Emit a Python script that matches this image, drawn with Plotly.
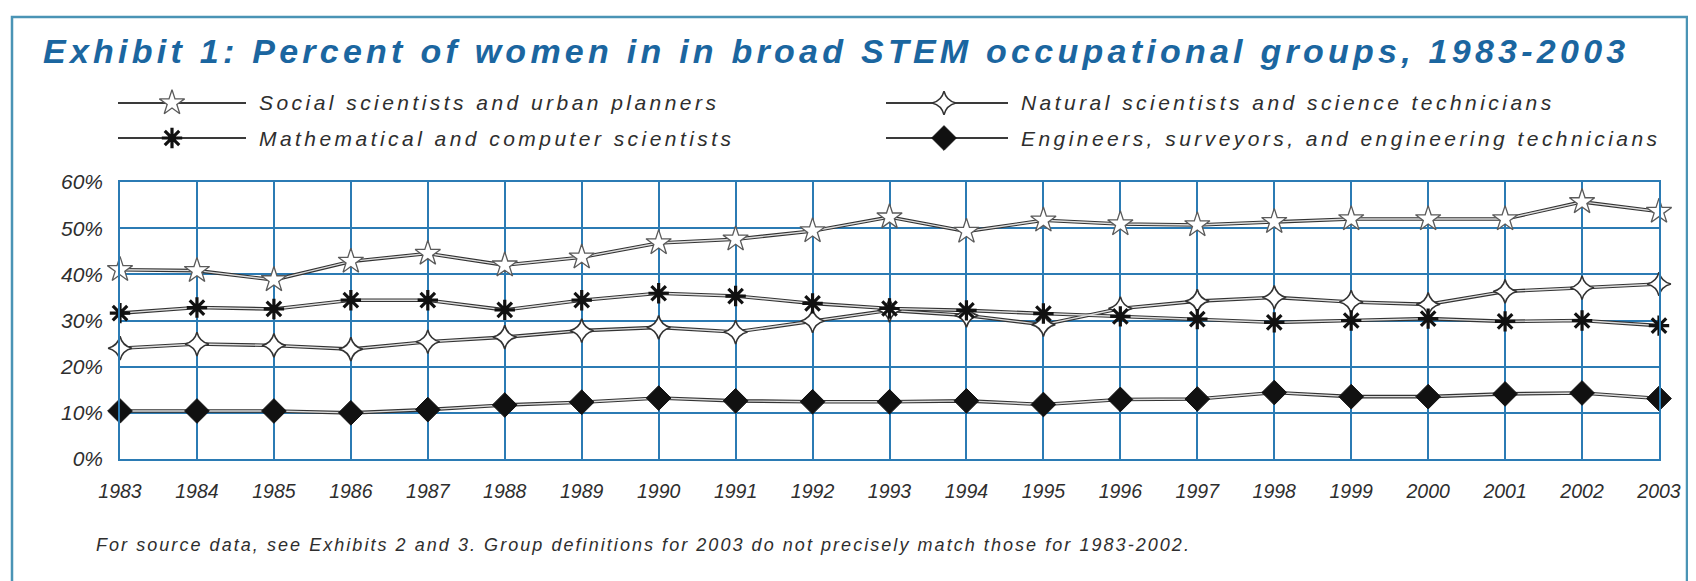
import plotly.graph_objects as go

# ---------------- data ----------------
years = list(range(1983, 2004))
social = [41.0, 40.8, 38.8, 42.8, 44.5, 42.0, 43.7, 46.8, 47.6, 49.4, 52.4,
          49.3, 51.7, 50.9, 50.7, 51.4, 52.0, 52.0, 52.0, 55.7, 53.6]
natural = [24.0, 24.9, 24.6, 23.8, 25.4, 26.4, 27.8, 28.5, 27.5, 29.9, 32.2,
           31.1, 29.1, 32.6, 34.2, 35.0, 34.0, 33.5, 36.3, 37.1, 37.9]
math_cs = [31.6, 32.8, 32.5, 34.4, 34.4, 32.3, 34.4, 35.9, 35.3, 33.7, 32.6,
           32.2, 31.5, 30.9, 30.3, 29.6, 30.0, 30.4, 29.8, 30.0, 28.9]
engineers = [10.4, 10.4, 10.4, 10.0, 10.7, 11.7, 12.3, 13.2, 12.6, 12.4, 12.4,
             12.6, 11.8, 12.9, 13.0, 14.4, 13.5, 13.5, 14.1, 14.3, 13.1]

series_names = [
    "Social scientists and urban planners",
    "Natural scientists and science technicians",
    "Mathematical and computer scientists",
    "Engineers, surveyors, and engineering technicians",
]
series_values = [social, natural, math_cs, engineers]
y_tick_values = [0, 10, 20, 30, 40, 50, 60]

title_text = "Exhibit 1: Percent of women in in broad STEM occupational groups, 1983-2003"
note_text = ("For source data, see Exhibits 2 and 3. Group definitions for 2003 "
             "do not precisely match those for 1983-2002.")

# ---------------- layout geometry ----------------
# The page body has an 8px margin (OFF). Positions below are window pixels.
OFF = 8
W, H = 1696, 581
ML, MR, MT, MB = 30, 30, 20, 20
PW, PH = W - ML - MR, H - MT - MB
PL, PR, PT, PB = 120, 1659, 182, 459   # data plot area edges (window pixels)


def fx(px):
    return (px - OFF - ML) / PW


def fy(py):
    return 1 - (py - OFF - MT) / PH


GRID = "#2b7bb4"
TEXT = "#2e2e2e"
FONT = "Liberation Sans"

marker_styles = [
    dict(symbol="star", size=19, color="white", line=dict(color="#5a5a5a", width=1.3)),
    dict(symbol="star-diamond", size=17, color="white", line=dict(color="#333333", width=1.6)),
    dict(symbol="asterisk-open", size=17, color="#111111", line=dict(color="#111111", width=3.2)),
    dict(symbol="diamond", size=19, color="#111111", line=dict(color="#111111", width=1)),
]

fig = go.Figure()

# dark outline of each series line
for vals in series_values:
    fig.add_trace(go.Scatter(x=years, y=vals, mode="lines",
                             line=dict(color="#333333", width=3.6),
                             hoverinfo="skip", showlegend=False))
# light core + markers
for name, vals, ms in zip(series_names, series_values, marker_styles):
    fig.add_trace(go.Scatter(x=years, y=vals, name=name, mode="lines+markers",
                             line=dict(color="#dcdcdc", width=1.4),
                             marker=ms, showlegend=False, cliponaxis=False))

# ---------------- custom legend (markers on a window-pixel overlay axis) ----------------
legend_pos = [  # (line start, marker, line end, text start, row y) in window pixels
    (118, 172, 246, 257, 103),
    (886, 944, 1008, 1019, 103),
    (118, 172, 246, 257, 138),
    (886, 944, 1008, 1019, 138),
]
shapes = []
annotations = []
for name, ms, (x0, xm, x1, xt, yy) in zip(series_names, marker_styles, legend_pos):
    shapes.append(dict(type="line", xref="paper", yref="paper",
                       x0=fx(x0), x1=fx(x1), y0=fy(yy), y1=fy(yy),
                       line=dict(color="#3a3a3a", width=2), layer="below"))
    fig.add_trace(go.Scatter(x=[xm], y=[yy], mode="markers",
                             xaxis="x2", yaxis="y2",
                             marker=ms, cliponaxis=False, showlegend=False,
                             hoverinfo="skip"))
    annotations.append(dict(
        xref="paper", yref="paper", x=fx(xt), y=fy(yy),
        xanchor="left", yanchor="middle", showarrow=False,
        text='<span style="letter-spacing:3.45px">' + name + "</span>",
        font=dict(family=FONT, size=21, color=TEXT, style="italic")))

# title
annotations.append(dict(
    xref="paper", yref="paper", x=fx(41), y=fy(51),
    xanchor="left", yanchor="middle", showarrow=False,
    text='<span style="letter-spacing:4.25px">' + title_text + "</span>",
    font=dict(family=FONT, size=34, color="#1b66a0", weight="bold", style="italic")))

# footnote
annotations.append(dict(
    xref="paper", yref="paper", x=fx(94), y=fy(545),
    xanchor="left", yanchor="middle", showarrow=False,
    text='<span style="letter-spacing:2.05px">' + note_text + "</span>",
    font=dict(family=FONT, size=18, color=TEXT, style="italic")))

# outer frame
shapes.append(dict(type="rect", xref="paper", yref="paper",
                   x0=fx(12), x1=fx(1687), y0=fy(17), y1=fy(620),
                   line=dict(color="#4a94b5", width=2.5), layer="below"))

fig.update_layout(
    width=W, height=H,
    margin=dict(l=ML, r=MR, t=MT, b=MB, pad=0, autoexpand=False),
    paper_bgcolor="white", plot_bgcolor="rgba(0,0,0,0)",
    shapes=shapes, annotations=annotations,
    showlegend=False,
    xaxis=dict(
        domain=[fx(PL), fx(PR)], anchor="y",
        range=[years[0], years[-1]], tickmode="array", tickvals=years,
        ticktext=[str(y) for y in years], ticks="",
        showgrid=True, gridcolor=GRID, gridwidth=1.6,
        showline=True, linecolor=GRID, linewidth=1.6, mirror=True,
        zeroline=False, ticklabelstandoff=14,
        tickfont=dict(family=FONT, size=19.5, color=TEXT, style="italic"),
    ),
    yaxis=dict(
        domain=[fy(PB), fy(PT)], anchor="x",
        range=[0, 60], tickmode="array", tickvals=y_tick_values,
        ticktext=[f"{v}%" for v in y_tick_values], ticks="",
        showgrid=True, gridcolor=GRID, gridwidth=1.6,
        showline=True, linecolor=GRID, linewidth=1.6, mirror=True,
        zeroline=False, ticklabelstandoff=11,
        tickfont=dict(family=FONT, size=21, color=TEXT, style="italic"),
    ),
    xaxis2=dict(domain=[0, 1], anchor="y2", range=[OFF + ML, OFF + W - MR],
                visible=False, fixedrange=True),
    yaxis2=dict(domain=[0, 1], anchor="x2", range=[OFF + H - MB, OFF + MT],
                visible=False, fixedrange=True),
)

fig.write_html("out.html")
